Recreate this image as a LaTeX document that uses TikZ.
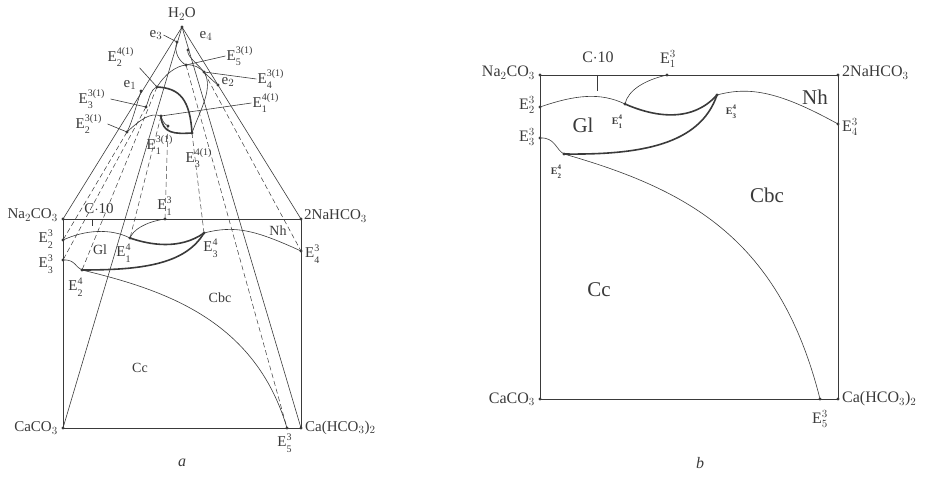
\documentclass[tikz,border=0pt]{standalone}
\usepackage{fontspec}
\setmainfont{Liberation Serif}
\usetikzlibrary{positioning}
\definecolor{ink}{HTML}{3A3A3A}
\newcommand{\tE}[2]{E\rlap{\raisebox{1.1ex}{\fontsize{7}{7}\selectfont#2}}\raisebox{-0.9ex}{\fontsize{7}{7}\selectfont#1}}
\newcommand{\sE}[2]{E\rlap{\raisebox{1.0ex}{\fontsize{10}{10}\selectfont#2}}\raisebox{-0.8ex}{\fontsize{10}{10}\selectfont#1}\phantom{\fontsize{10}{10}\selectfont#2}}

\begin{document}
\begin{tikzpicture}[x=1pt,y=-1pt,
  every node/.style={text=ink,inner sep=1pt},
  sm/.style={font=\fontsize{15}{16}\selectfont},
  md/.style={font=\fontsize{14}{15}\selectfont},
  lg/.style={font=\fontsize{16}{17}\selectfont},
  reg/.style={font=\fontsize{21}{22}\selectfont},
  tiny/.style={font=\fontsize{10}{11}\selectfont\bfseries},
  pt/.style={circle,fill=ink,inner sep=0pt,minimum size=3.2pt},
  sq/.style={draw=ink,line width=0.8pt},
  ln/.style={draw=ink,line width=0.6pt},
  heavy/.style={draw=ink,line width=1.6pt},
  proj/.style={draw=ink,line width=0.5pt,dash pattern=on 5pt off 3pt}]
\useasboundingbox (0,0) rectangle (942,486);

\node[pt] (aW) at (182,27) {};
\node[pt] (aN) at (63,219) {};
\node[pt] (aH) at (301,219) {};
\node[pt] (aC) at (63,428) {};
\node[pt] (aB) at (301,428) {};
\node[pt] (aE13) at (165,219) {};
\node[pt] (aE23) at (63,240) {};
\node[pt] (aE33) at (63,260) {};
\node[pt] (aE14) at (130,238) {};
\node[pt] (aE34) at (204,233) {};
\node[pt] (aE24) at (82,270) {};
\node[pt] (aE43) at (301,251) {};
\node[pt] (aE53) at (287,428) {};
\node[pt] (ae3) at (177,42) {};
\node[pt] (ae4) at (188,50) {};
\node[pt] (ae1) at (141,91) {};
\node[pt] (ae2) at (218,85) {};
\node[pt] (aP53) at (186,65) {};
\node[pt] (aP43) at (204,72) {};
\node[pt] (aP24) at (157,87) {};
\node[pt] (aP33) at (146,107) {};
\node[pt] (aP14) at (161,116) {};
\node[pt] (aP13) at (168,126) {};
\node[pt] (aP23) at (127,132) {};
\node[pt] (aP34) at (192,133) {};

\draw[sq] (aN.center) -- (aH.center) -- (aB.center) -- (aC.center) -- cycle;
\draw[ln] (aW.center) -- (aN.center);
\draw[ln] (aW.center) -- (aH.center);
\draw[ln] (aW.center) -- (aC.center);
\draw[ln] (aW.center) -- (aB.center);

\draw[proj] (aP13.center) -- (aE13.center);
\draw[proj] (aP23.center) -- (aE23.center);
\draw[proj] (aP33.center) -- (aE33.center);
\draw[proj] (aP14.center) -- (aE14.center);
\draw[proj] (aP24.center) -- (aE24.center);
\draw[proj] (aP34.center) -- (aE34.center);
\draw[proj] (aP43.center) -- (aE43.center);
\draw[proj] (aP53.center) -- (aE53.center);

\draw[ln] (ae1.center) .. controls (135,110) and (132,122) .. (aP23.center);
\draw[ln] (aP23.center) .. controls (140,120) and (150,112) .. (aP14.center);
\draw[ln] (aP33.center) .. controls (150,97) and (150,90) .. (aP24.center);
\draw[ln] (aP24.center) .. controls (165,74) and (176,66) .. (aP53.center);
\draw[ln] (ae3.center) .. controls (173,52) and (180,62) .. (aP53.center);
\draw[ln] (ae4.center) .. controls (186,56) and (198,64) .. (aP43.center);
\draw[ln] (aP53.center) .. controls (194,64) and (200,68) .. (aP43.center);
\draw[ln] (ae2.center) .. controls (214,82) and (208,76) .. (aP43.center);
\draw[ln] (aP34.center) .. controls (200,110) and (214,88) .. (aP43.center);
\draw[ln] (aP13.center) .. controls (164,124) and (162,120) .. (aP14.center);
\draw[heavy] (aP24.center) .. controls (180,88) and (190,100) .. (aP34.center);
\draw[heavy] (aP14.center) .. controls (162,134) and (175,134) .. (aP34.center);

\draw[ln] (aE23.center) .. controls (85,230) and (110,228) .. (aE14.center);
\draw[heavy] (aE14.center) .. controls (150,245) and (180,250) .. (aE34.center);
\draw[ln] (aE34.center) .. controls (235,225) and (255,230) .. (aE43.center);
\draw[ln] (aE13.center) .. controls (145,222) and (133,230) .. (aE14.center);
\draw[ln] (aE33.center) .. controls (75,259) and (76,268) .. (aE24.center);
\draw[heavy] (aE24.center) .. controls (140,270) and (185,265) .. (aE34.center);
\draw[ln] (aE24.center) .. controls (165,290) and (255,320) .. (aE53.center);

\node[sm] (tW) at (182,14) {H$_2$O};
\node[sm,left] (tN) at (59,215) {Na$_2$CO$_3$};
\node[sm,right] (tH) at (303,216) {2NaHCO$_3$};
\node[sm,left] (tC) at (59,428) {CaCO$_3$};
\node[sm,right] (tB) at (304,428) {Ca(HCO$_3$)$_2$};
\node[sm] (tE13) at (167,206) {\sE{1}{3}};
\node[sm,left] (tE23) at (59,239) {\sE{2}{3}};
\node[sm,left] (tE33) at (59,264) {\sE{3}{3}};
\node[sm] (tE14) at (126,253) {\sE{1}{4}};
\node[sm] (tE34) at (213,248) {\sE{3}{4}};
\node[sm] (tE24) at (78,287) {\sE{2}{4}};
\node[sm,right] (tE43) at (304,254) {\sE{4}{3}};
\node[sm] (tE53) at (287,443) {\sE{5}{3}};
\node[sm] (tC10) at (99,209) {C$\cdot$10};
\coordinate (aT1) at (92,219);
\coordinate (aT2) at (92,226);
\draw[ln] (aT1) -- (aT2);
\node[md] (rGl) at (100,250) {Gl};
\node[md] (rNh) at (278,231) {Nh};
\node[md] (rCbc) at (220,298) {Cbc};
\node[md] (rCc) at (140,368) {Cc};

\node[sm] (te3) at (156,35) {e$_3$};
\node[sm] (te4) at (206,36) {e$_4$};
\node[sm] (te1) at (130,85) {e$_1$};
\node[sm] (te2) at (228,82) {e$_2$};
\node[sm] (tP53) at (242,56) {\sE{5}{3(1)}};
\node[sm] (tP24) at (123,57) {\sE{2}{4(1)}};
\node[sm] (tP43) at (273,79) {\sE{4}{3(1)}};
\node[sm] (tP14) at (268,103) {\sE{1}{4(1)}};
\node[sm] (tP33) at (94,99) {\sE{3}{3(1)}};
\node[sm] (tP23) at (91,124) {\sE{2}{3(1)}};
\node[sm] (tP13) at (162,145) {\sE{1}{3(1)}};
\node[sm] (tP34) at (201,158) {\sE{3}{4(1)}};
\draw[ln] (te3.east) -- (ae3.center);
\draw[ln] (tP53.west) -- (aP53.center);
\draw[ln] (tP24.south east) -- (aP24.center);
\draw[ln] (tP43.west) -- (aP43.center);
\draw[ln] (tP14.west) -- (aP14.center);
\draw[ln] (tP33.east) -- (aP33.center);
\draw[ln] (tP23.east) -- (aP23.center);

\node[pt] (bN) at (540,75) {};
\node[pt] (bH) at (838,75) {};
\node[pt] (bC) at (540,399) {};
\node[pt] (bB) at (838,399) {};
\node[pt] (bE13) at (667,75) {};
\node[pt] (bE23) at (540,107) {};
\node[pt] (bE33) at (540,138) {};
\node[pt] (bE14) at (625,104) {};
\node[pt] (bE34) at (717,95) {};
\node[pt] (bE24) at (564,154) {};
\node[pt] (bE43) at (838,124) {};
\node[pt] (bE53) at (820,399) {};

\draw[sq] (bN.center) -- (bH.center) -- (bB.center) -- (bC.center) -- cycle;
\draw[ln] (bE23.center) .. controls (575,95) and (600,92) .. (bE14.center);
\draw[heavy] (bE14.center) .. controls (650,115) and (690,125) .. (bE34.center);
\draw[ln] (bE34.center) .. controls (750,86) and (780,92) .. (bE43.center);
\draw[ln] (bE13.center) .. controls (645,80) and (628,90) .. (bE14.center);
\draw[ln] (bE33.center) .. controls (555,137) and (556,150) .. (bE24.center);
\draw[heavy] (bE24.center) .. controls (640,155) and (700,145) .. (bE34.center);
\draw[ln] (bE24.center) .. controls (690,190) and (780,240) .. (bE53.center);
\coordinate (bT1) at (597,75);
\coordinate (bT2) at (597,91);
\draw[ln] (bT1) -- (bT2);

\node[lg,left] (uN) at (536,73) {Na$_2$CO$_3$};
\node[lg,right] (uH) at (841,73) {2NaHCO$_3$};
\node[lg,left] (uC) at (536,399) {CaCO$_3$};
\node[lg,right] (uB) at (841,399) {Ca(HCO$_3$)$_2$};
\node[lg] (uE13) at (668,59) {E$_1^3$};
\node[lg,left] (uE23) at (536,105) {E$_2^3$};
\node[lg,left] (uE33) at (536,137) {E$_3^3$};
\node[lg,right] (uE43) at (841,127) {E$_4^3$};
\node[lg] (uE53) at (820,419) {E$_5^3$};
\node[tiny] (uE14) at (617,122) {\tE{1}{4}};
\node[tiny] (uE34) at (731,112) {\tE{3}{4}};
\node[tiny] (uE24) at (556,172) {\tE{2}{4}};
\node[lg] (uC10) at (598,57) {C$\cdot$10};
\node[reg] (sGl) at (583,125) {Gl};
\node[reg] (sNh) at (815,97) {Nh};
\node[reg] (sCbc) at (767,195) {Cbc};
\node[reg] (sCc) at (599,290) {Cc};

\node[font=\fontsize{16}{17}\selectfont\itshape] (capA) at (182,463) {a};
\node[font=\fontsize{16}{17}\selectfont\itshape] (capB) at (700,463) {b};
\end{tikzpicture}
\end{document}
